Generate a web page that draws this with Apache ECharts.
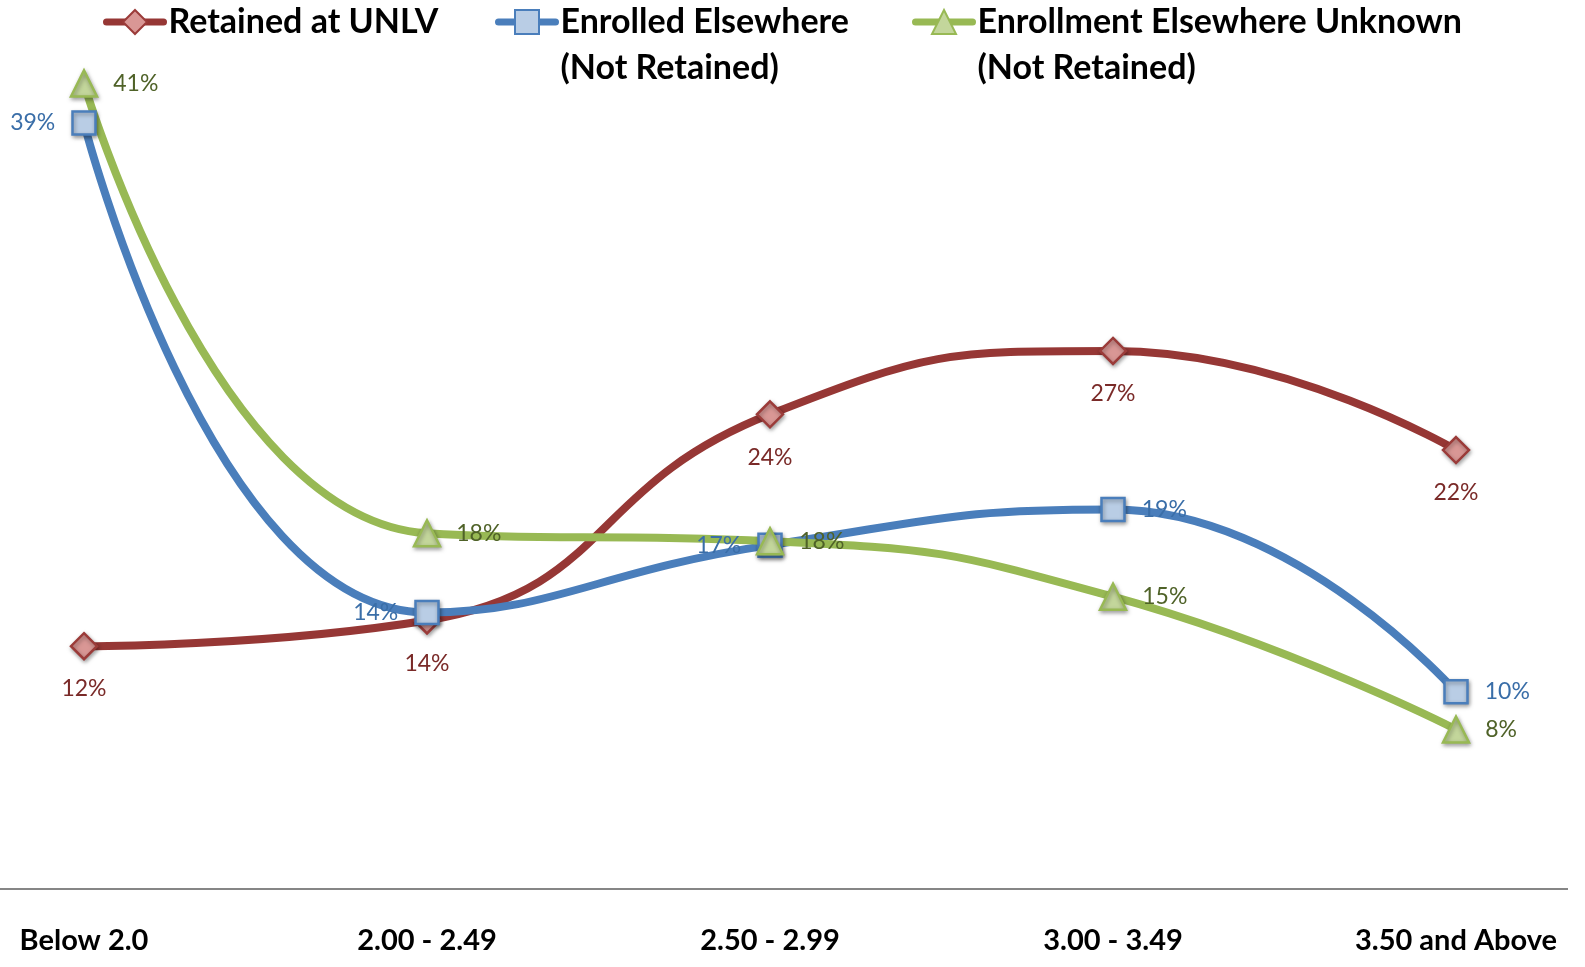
<!DOCTYPE html>
<html>
<head>
<meta charset="utf-8">
<script src="https://cdn.jsdelivr.net/npm/echarts@6/dist/echarts.min.js"></script>
<style>
html,body{margin:0;padding:0;background:#fff;}
#chart{width:1585px;height:967px;}
</style>
</head>
<body>
<div id="chart"></div>
<script>
const categories = ['Below 2.0', '2.00 - 2.49', '2.50 - 2.99', '3.00 - 3.49', '3.50 and Above'];
const retained = [12.2, 13.5, 23.9, 27.1, 22.1];
const enrolledElsewhere = [38.6, 13.9, 17.3, 19.1, 9.9];
const elsewhereUnknown = [40.6, 17.9, 17.5, 14.7, 8.0];
const enrolledLabelPos = ['left', 'left', 'left', 'right', 'right'];
const seriesNames = ['Retained at UNLV', 'Enrolled Elsewhere\n(Not Retained)', 'Enrollment Elsewhere Unknown\n(Not Retained)'];

const FONT = 'Lato';
const shadow = {shadowBlur: 4, shadowColor: 'rgba(0,0,0,0.35)', shadowOffsetY: 2, shadowOffsetX: 1};
const pct = p => Math.round(p.value) + '%';

const chart = echarts.init(document.getElementById('chart'));

function legendFor(name, left, twoLine) {
  return {
    data: [name],
    left: left,
    top: twoLine ? -47 : -1,
    padding: 0,
    itemWidth: 57,
    itemHeight: 30,
    lineStyle: {width: 7, cap: 'round'},
    formatter: twoLine ? (n => '\u00a0\n' + n) : (n => n),
    textStyle: {
      fontFamily: FONT, fontWeight: 'bold', fontSize: 34, color: '#000',
      lineHeight: 46
    }
  };
}

chart.setOption({
  animation: false,
  legend: [
    legendFor(seriesNames[0], 103, false),
    legendFor(seriesNames[1], 495, true),
    legendFor(seriesNames[2], 912, true)
  ],
  grid: {left: 84, right: 129, top: 16, bottom: 79, containLabel: false},
  xAxis: {
    type: 'category',
    data: categories,
    boundaryGap: false,
    axisLine: {show: false},
    axisTick: {show: false},
    axisLabel: {
      fontFamily: FONT, fontWeight: 'bold', fontSize: 29, color: '#000',
      margin: 38, interval: 0
    },
    splitLine: {show: false}
  },
  yAxis: {type: 'value', min: 0, max: 44, show: false},
  graphic: [{
    type: 'line', z: 0,
    shape: {x1: 0, y1: 889, x2: 1568, y2: 889},
    style: {stroke: '#868686', lineWidth: 2}
  }],
  series: [
    {
      name: seriesNames[0], type: 'line', data: retained, smooth: 0.5,
      symbol: 'diamond', symbolSize: 26,
      lineStyle: {color: '#963735', width: 8, cap: 'round'},
      itemStyle: Object.assign({color: '#d99795', borderColor: '#9b3b39', borderWidth: 2.5}, shadow),
      label: {show: true, position: 'bottom', distance: 17, formatter: pct,
        fontFamily: FONT, fontSize: 23, color: '#7a2a28'}
    },
    {
      name: seriesNames[1], type: 'line', smooth: 0.5,
      data: enrolledElsewhere.map((v, i) => ({value: v, label: {position: enrolledLabelPos[i]}})),
      symbol: 'rect', symbolSize: 23,
      lineStyle: {color: '#4a7ebb', width: 8, cap: 'round'},
      itemStyle: Object.assign({color: '#b9cde5', borderColor: '#4a7ebb', borderWidth: 2.5}, shadow),
      label: {show: true, distance: 16, formatter: pct,
        fontFamily: FONT, fontSize: 23, color: '#3a6ea8'}
    },
    {
      name: seriesNames[2], type: 'line', data: elsewhereUnknown, smooth: 0.5,
      symbol: 'triangle', symbolSize: 26,
      lineStyle: {color: '#98b954', width: 8, cap: 'round'},
      itemStyle: Object.assign({color: '#c3d69b', borderColor: '#98b954', borderWidth: 2.5}, shadow),
      label: {show: true, position: 'right', distance: 15, formatter: pct,
        fontFamily: FONT, fontSize: 23, color: '#4f6228'}
    }
  ]
});
</script>
</body>
</html>
